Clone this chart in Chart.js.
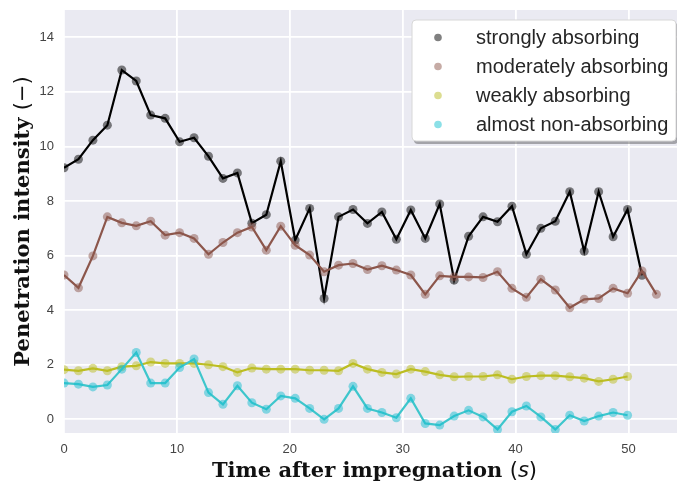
<!DOCTYPE html>
<html>
<head>
<meta charset="utf-8">
<script src="https://cdn.jsdelivr.net/npm/chart.js@4.4.1/dist/chart.umd.min.js"></script>
<style>
  html, body { margin: 0; padding: 0; background: #fff; }
  #wrap { width: 677px; height: 482px; }
</style>
</head>
<body>
<div id="wrap"><canvas id="chart" width="677" height="482"></canvas></div>
<script>
// frame times (s)
const times = [0, 1.28, 2.56, 3.84, 5.12, 6.40, 7.68, 8.96, 10.24, 11.52, 12.80, 14.08, 15.36, 16.64,
  17.92, 19.20, 20.48, 21.76, 23.04, 24.32, 25.60, 26.88, 28.16, 29.44, 30.72, 32.00, 33.28, 34.56,
  35.84, 37.12, 38.40, 39.68, 40.96, 42.24, 43.52, 44.80, 46.08, 47.36, 48.64, 49.92, 51.20, 52.48];

const seriesNames = ['strongly absorbing', 'moderately absorbing', 'weakly absorbing', 'almost non-absorbing'];

const strongly = [9.22, 9.53, 10.23, 10.78, 12.80, 12.40, 11.15, 11.03, 10.17, 10.32, 9.64, 8.83, 9.03, 7.19,
  7.50, 9.46, 6.57, 7.73, 4.43, 7.42, 7.69, 7.18, 7.60, 6.60, 7.67, 6.63, 7.89, 5.10, 6.71, 7.42, 7.24,
  7.81, 6.05, 7.00, 7.26, 8.34, 6.16, 8.34, 6.69, 7.69, 5.28];
const moderately = [5.29, 4.82, 5.99, 7.42, 7.20, 7.09, 7.26, 6.75, 6.84, 6.63, 6.05, 6.48, 6.84, 7.05,
  6.20, 7.08, 6.38, 6.02, 5.41, 5.65, 5.71, 5.49, 5.63, 5.47, 5.29, 4.58, 5.26, 5.22, 5.22, 5.20, 5.41,
  4.80, 4.47, 5.13, 4.74, 4.09, 4.40, 4.43, 4.80, 4.62, 5.44, 4.58];
const weakly = [1.82, 1.78, 1.87, 1.78, 1.93, 1.96, 2.10, 2.05, 2.05, 2.05, 2.00, 1.93, 1.72, 1.88, 1.84,
  1.84, 1.84, 1.80, 1.80, 1.78, 2.05, 1.84, 1.72, 1.66, 1.84, 1.75, 1.63, 1.56, 1.57, 1.57, 1.63, 1.47,
  1.57, 1.60, 1.60, 1.56, 1.51, 1.39, 1.47, 1.57];
const nonAbsorbing = [1.33, 1.29, 1.19, 1.26, 1.84, 2.45, 1.33, 1.33, 1.90, 2.21, 0.98, 0.55, 1.23, 0.61,
  0.37, 0.86, 0.77, 0.40, 0.00, 0.40, 1.21, 0.40, 0.25, 0.06, 0.77, -0.15, -0.21, 0.12, 0.33, 0.09, -0.37,
  0.28, 0.49, 0.09, -0.37, 0.15, -0.06, 0.12, 0.25, 0.15];

const xTicks = [0, 10, 20, 30, 40, 50];
const yTicks = [0, 2, 4, 6, 8, 10, 12, 14];

const lineColors = ['#000000', '#8c564b', '#bcbd22', '#3ec6cc'];
const dotColors = ['rgba(0,0,0,0.5)', 'rgba(140,86,75,0.5)', 'rgba(188,189,34,0.5)', 'rgba(23,190,207,0.5)'];
const legendDots = ['#808080', '#c6aba5', '#dcdd90', '#8be0e7'];

function toPoints(vals) {
  return vals.map((v, i) => ({ x: times[i], y: v }));
}

const allSeries = [strongly, moderately, weakly, nonAbsorbing];
const datasets = allSeries.map((vals, i) => ({
  label: seriesNames[i],
  data: toPoints(vals),
  borderColor: lineColors[i],
  borderWidth: 2.2,
  pointRadius: 4.5,
  pointBackgroundColor: dotColors[i],
  pointBorderWidth: 0,
  tension: 0,
  order: 3 - i
}));

// grey plot area like seaborn darkgrid
const plotBg = {
  id: 'plotBg',
  beforeDraw(chart) {
    const { ctx, chartArea: a } = chart;
    ctx.save();
    ctx.fillStyle = '#eaeaf2';
    ctx.fillRect(a.left, a.top, a.right - a.left, a.bottom - a.top);
    ctx.restore();
  }
};

function drawParts(ctx, parts, cx, y) {
  let total = 0;
  parts.forEach(p => { ctx.font = p.font; total += ctx.measureText(p.text).width; });
  let x = cx - total / 2;
  ctx.textAlign = 'left';
  ctx.textBaseline = 'alphabetic';
  parts.forEach(p => {
    ctx.font = p.font;
    ctx.fillText(p.text, x, y);
    x += ctx.measureText(p.text).width;
  });
}

const serifBold = 'bold 21px "DejaVu Serif"';
const mathFont = '21px "DejaVu Sans"';
const mathItalic = 'italic 21px "DejaVu Sans"';

const axisTitles = {
  id: 'axisTitles',
  afterDraw(chart) {
    const { ctx, chartArea: a } = chart;
    ctx.save();
    ctx.fillStyle = '#111';
    drawParts(ctx, [
      { text: 'Time after impregnation ', font: serifBold },
      { text: '(', font: mathFont },
      { text: 's', font: mathItalic },
      { text: ')', font: mathFont }
    ], (a.left + a.right) / 2 + 4, 477);
    ctx.translate(28.5, (a.top + a.bottom) / 2);
    ctx.rotate(-Math.PI / 2);
    drawParts(ctx, [
      { text: 'Penetration intensity ', font: serifBold },
      { text: '(\u2212)', font: mathFont }
    ], 0, 0);
    ctx.restore();
  }
};

// legend box with shadow inside the plot
const legendBox = {
  id: 'legendBox',
  afterDraw(chart) {
    const { ctx } = chart;
    const bx = 412, by = 20, bw = 264, bh = 121;
    ctx.save();
    ctx.fillStyle = 'rgba(0,0,0,0.3)';
    ctx.beginPath();
    ctx.roundRect(bx + 2, by + 3, bw, bh, 4);
    ctx.fill();
    ctx.fillStyle = '#fff';
    ctx.strokeStyle = '#d8d8d8';
    ctx.lineWidth = 1;
    ctx.beginPath();
    ctx.roundRect(bx, by, bw, bh, 4);
    ctx.fill();
    ctx.stroke();
    ctx.font = '20px "Liberation Sans"';
    ctx.textAlign = 'left';
    ctx.textBaseline = 'alphabetic';
    seriesNames.forEach((name, i) => {
      const y = 37.5 + i * 29;
      ctx.fillStyle = legendDots[i];
      ctx.beginPath();
      ctx.arc(438, y, 3.8, 0, Math.PI * 2);
      ctx.fill();
      ctx.fillStyle = '#262626';
      ctx.fillText(name, 476, y + 6.5);
    });
    ctx.restore();
  }
};

const tickFont = { family: 'Liberation Sans', size: 13 };

new Chart(document.getElementById('chart'), {
  type: 'line',
  data: { datasets: datasets },
  options: {
    responsive: false,
    animation: false,
    layout: { autoPadding: false, padding: { top: 10, right: 0, left: 0, bottom: 0 } },
    plugins: { legend: { display: false }, tooltip: { enabled: false } },
    scales: {
      x: {
        type: 'linear',
        min: 0,
        max: 54.3,
        afterFit(s) { s.height = 49; s.paddingLeft = 0; s.paddingRight = 0; },
        afterBuildTicks(s) { s.ticks = xTicks.map(v => ({ value: v })); },
        grid: { color: '#ffffff', lineWidth: 1.8, drawTicks: false },
        border: { display: false },
        ticks: { padding: 9, color: '#444', font: tickFont }
      },
      y: {
        type: 'linear',
        min: -0.5,
        max: 15,
        afterFit(s) { s.width = 64; s.paddingTop = 0; s.paddingBottom = 0; },
        afterBuildTicks(s) { s.ticks = yTicks.map(v => ({ value: v })); },
        grid: { color: '#ffffff', lineWidth: 1.8, drawTicks: false },
        border: { display: false },
        ticks: { padding: 10, color: '#444', font: tickFont }
      }
    }
  },
  plugins: [plotBg, axisTitles, legendBox]
});
</script>
</body>
</html>
